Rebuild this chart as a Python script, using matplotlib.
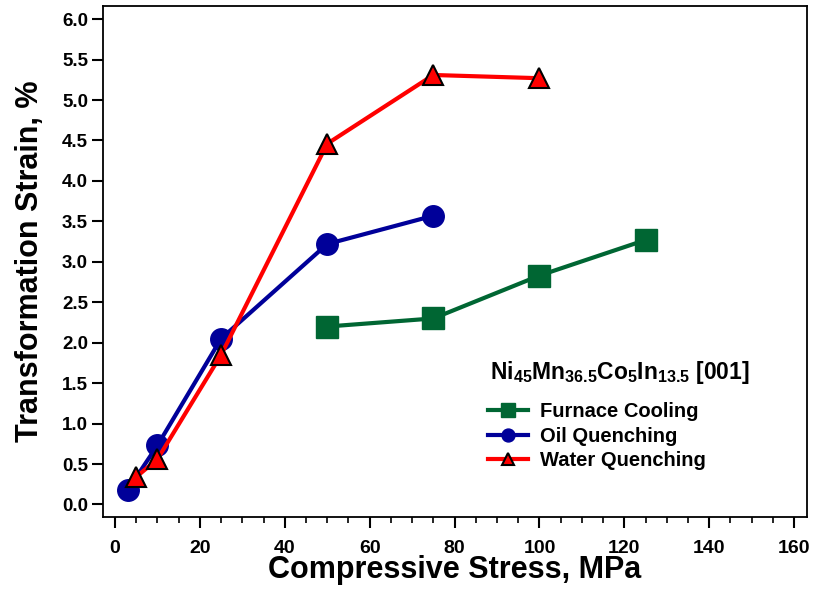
import matplotlib
matplotlib.use("Agg")
import matplotlib.pyplot as plt

plt.rcParams['font.family'] = ['Liberation Sans', 'DejaVu Sans']
plt.rcParams['font.weight'] = 'bold'
plt.rcParams['mathtext.fontset'] = 'custom'
plt.rcParams['mathtext.rm'] = 'Liberation Sans:bold'
plt.rcParams['mathtext.it'] = 'Liberation Sans:bold'
plt.rcParams['mathtext.bf'] = 'Liberation Sans:bold'

# Data
fc_x = [50, 75, 100, 125]
fc_y = [2.20, 2.30, 2.83, 3.27]
oq_x = [3, 10, 25, 50, 75]
oq_y = [0.18, 0.73, 2.05, 3.22, 3.57]
wq_x = [5, 10, 25, 50, 75, 100]
wq_y = [0.34, 0.56, 1.85, 4.46, 5.31, 5.27]

labels = ["Furnace Cooling", "Oil Quenching", "Water Quenching"]
legend_title = r"$\mathbf{Ni_{45}Mn_{36.5}Co_{5}In_{13.5}}$ [001]"
x_ticks = [0, 20, 40, 60, 80, 100, 120, 140, 160]
y_ticks = [0.0, 0.5, 1.0, 1.5, 2.0, 2.5, 3.0, 3.5, 4.0, 4.5, 5.0, 5.5, 6.0]

fig = plt.figure(figsize=(8.15, 5.91), dpi=100)
ax = fig.add_axes([0.126, 0.1252, 0.864, 0.8648])

ax.plot(fc_x, fc_y, color='#006633', lw=3, marker='s', ms=16, mec='#006633', label=labels[0], zorder=3)
ax.plot(oq_x, oq_y, color='#000099', lw=3, marker='o', ms=15.5, mec='#000099', label=labels[1], zorder=3)
ax.plot(wq_x, wq_y, color='#ff0000', lw=3, marker='^', ms=15, mec='black', mew=1.5, label=labels[2], zorder=4)

ax.set_xlim(-2.9, 163.0)
ax.set_ylim(-0.155, 6.164)
ax.set_xticks(x_ticks)
ax.set_xticks([v for v in range(5, 160, 5) if v % 20 != 0], minor=True)
ax.set_yticks(y_ticks)
ax.set_yticklabels([f"{v:.1f}" for v in y_ticks])

ax.tick_params(axis='both', which='major', direction='out', length=8, width=1.5)
ax.tick_params(axis='x', which='major', labelsize=14, pad=8.5)
ax.tick_params(axis='y', which='major', labelsize=13.5, pad=2.5)
ax.tick_params(axis='x', which='minor', direction='out', length=4.5, width=1.2)
ax.tick_params(top=False, right=False)
for s in ax.spines.values():
    s.set_linewidth(1.3)

ax.set_xlabel("Compressive Stress, MPa", fontsize=22, fontweight='bold', labelpad=-1.5)
ax.set_ylabel("Transformation Strain, %", fontsize=22, fontweight='bold', labelpad=12.5)

ax.text(0.55, 0.2836, legend_title, transform=ax.transAxes, fontsize=16.5,
        ha='left', va='center')

leg = ax.legend(loc='center left', bbox_to_anchor=(0.5475, 0.1584), frameon=False,
                fontsize=14.5, handlelength=2.0, handletextpad=0.55, markerscale=0.6,
                labelspacing=0.28, borderaxespad=0, borderpad=0)

fig.savefig("out.png", dpi=100)
